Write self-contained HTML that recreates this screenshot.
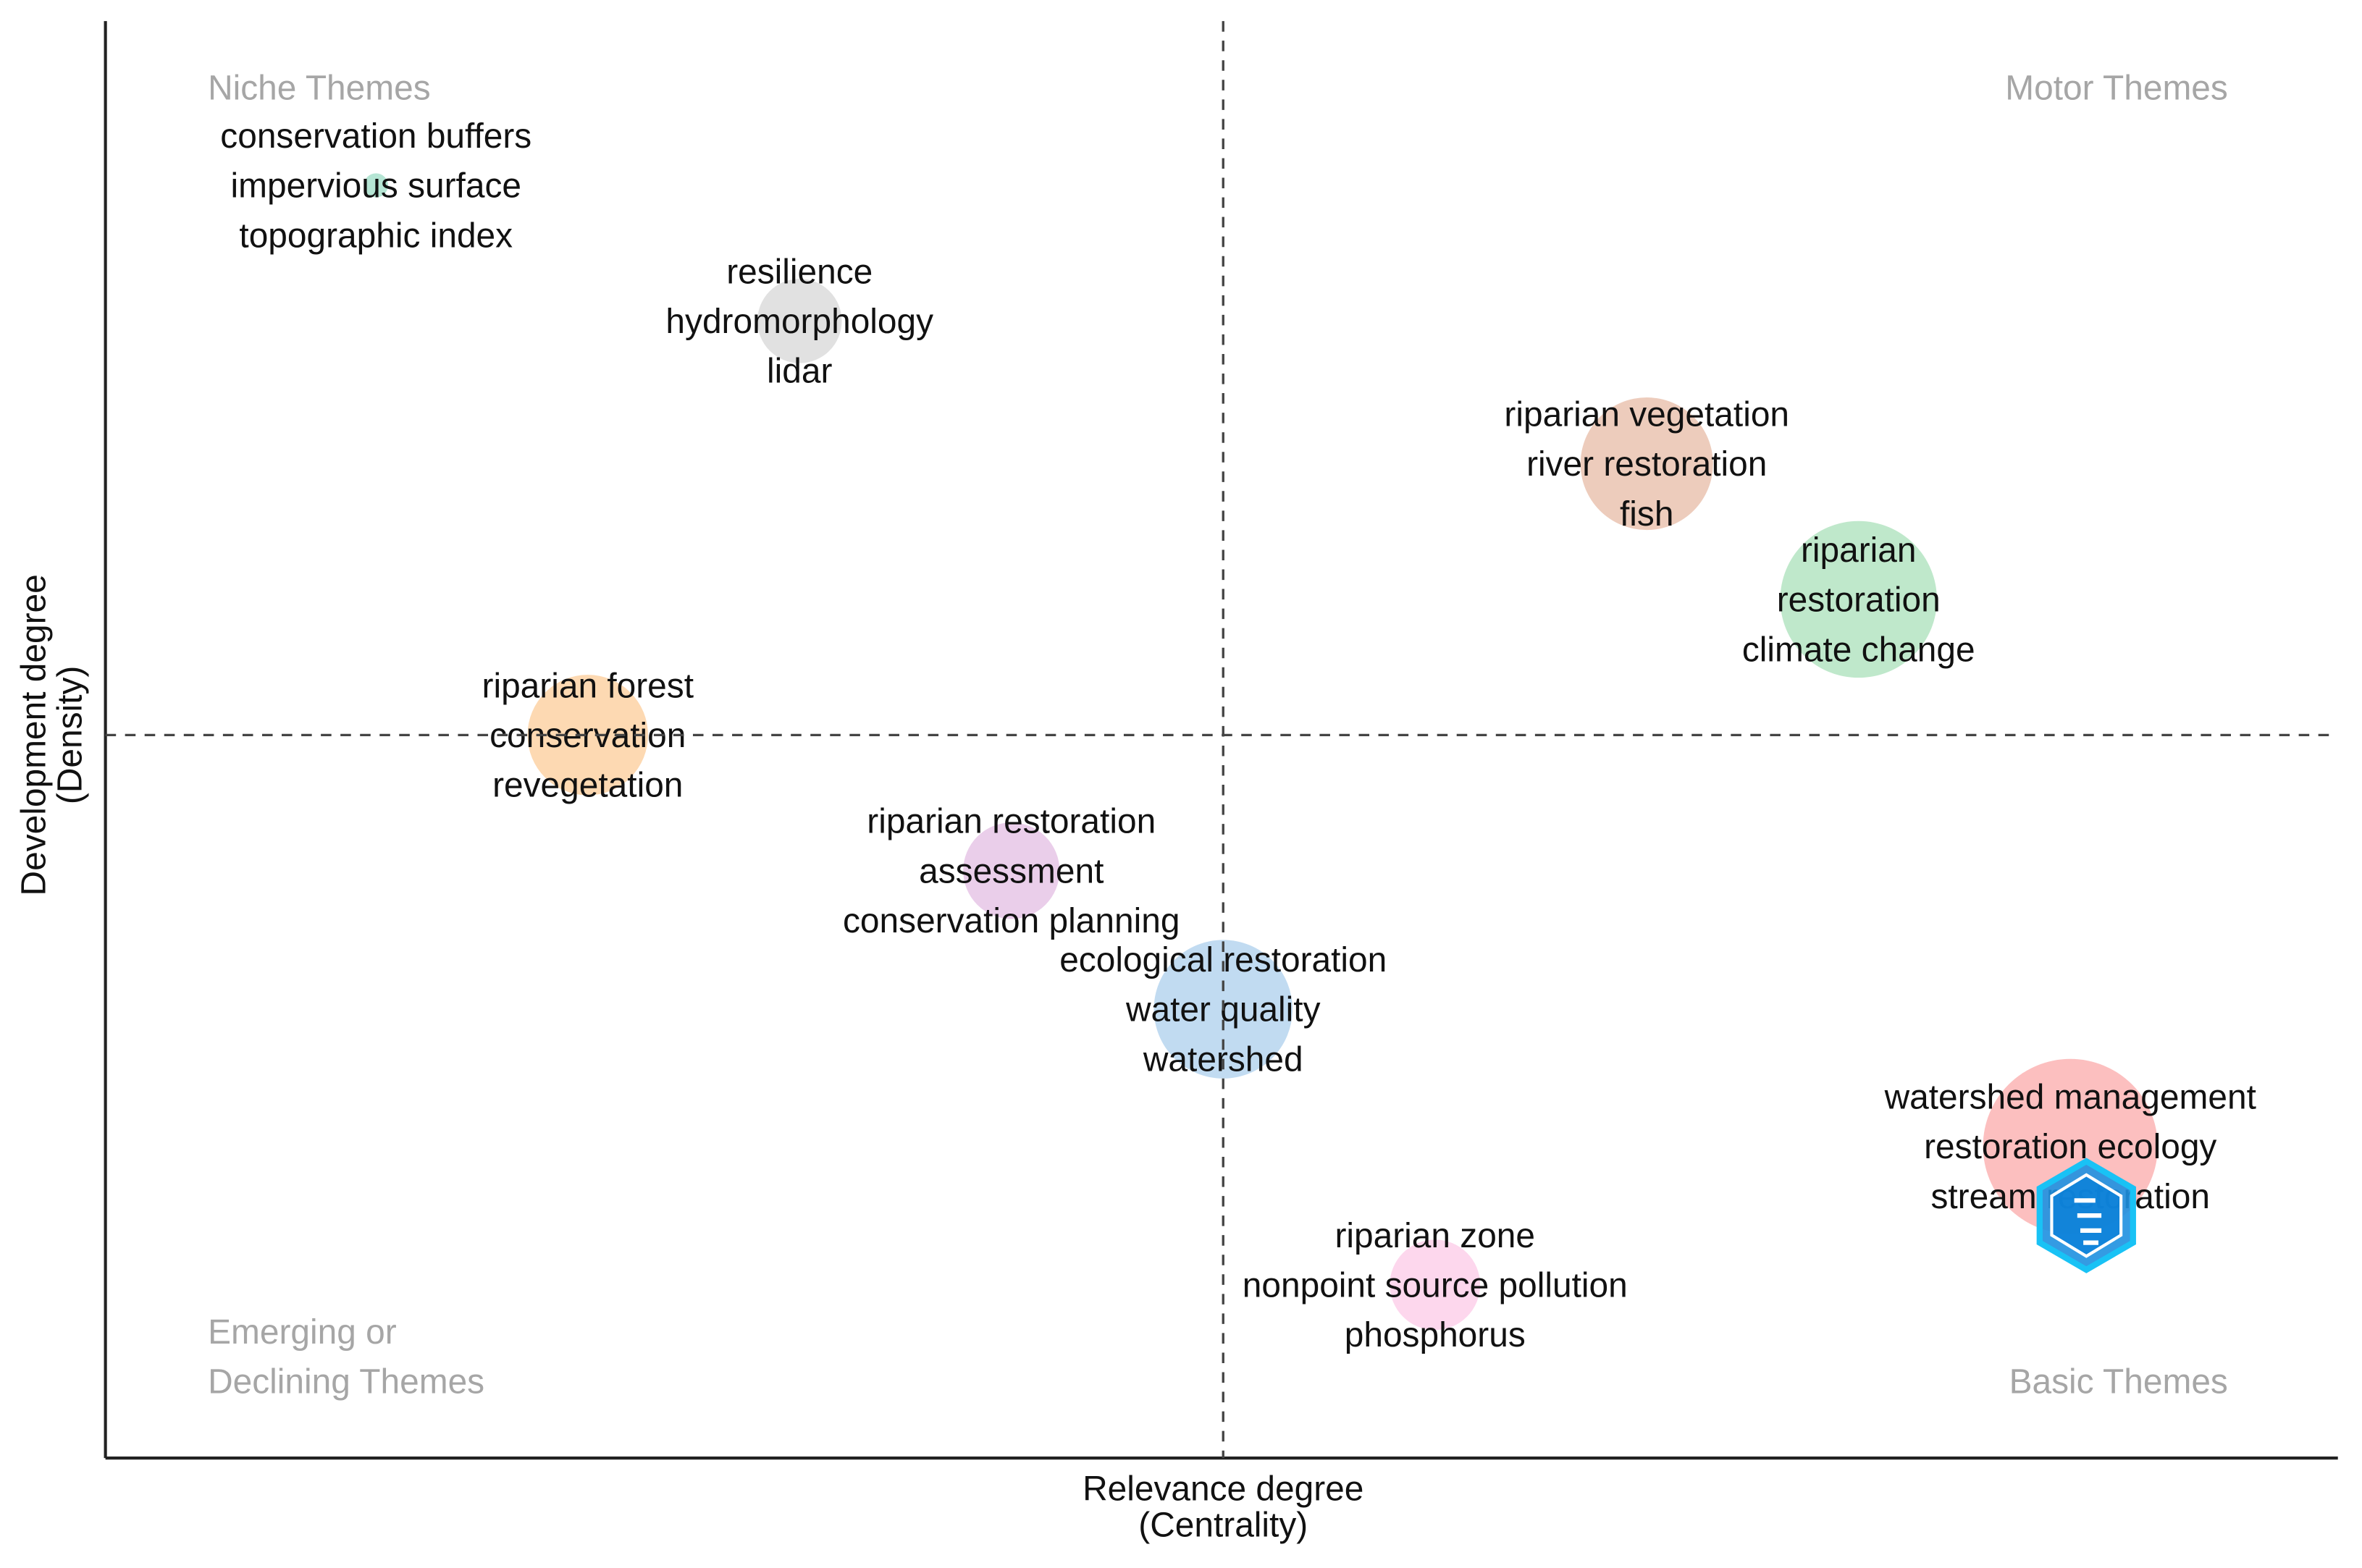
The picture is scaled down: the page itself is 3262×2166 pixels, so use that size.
<!DOCTYPE html>
<html><head><meta charset="utf-8"><style>
html,body{margin:0;padding:0;background:#fff;width:3262px;height:2166px;overflow:hidden}
svg{display:block}
text{font-family:"Liberation Sans",sans-serif}
</style></head><body>
<svg id="chart" width="3262" height="2166" viewBox="0 0 1568 1041" preserveAspectRatio="none" xmlns="http://www.w3.org/2000/svg">
<g id="marks"></g>
<line x1="70" y1="14" x2="70" y2="968" stroke="#222" stroke-width="2"/>
<line x1="70" y1="968" x2="1552" y2="968" stroke="#222" stroke-width="2"/>
<line x1="812" y1="14" x2="812" y2="968" stroke="#444" stroke-width="1.6" stroke-dasharray="7,6"/>
<line x1="70" y1="488" x2="1552" y2="488" stroke="#444" stroke-width="1.6" stroke-dasharray="7,6"/>
<g fill="#a6a6a6" font-size="23">
<text x="138" y="66">Niche Themes</text>
<text x="1479" y="66" text-anchor="end">Motor Themes</text>
<text x="138" y="892">Emerging or</text>
<text x="138" y="925">Declining Themes</text>
<text x="1479" y="925" text-anchor="end">Basic Themes</text>
</g>
<g fill="#111" font-size="23" text-anchor="middle">
<text x="812" y="996">Relevance degree</text>
<text x="812" y="1020">(Centrality)</text>
<text transform="translate(30,488) rotate(-90)">Development degree</text>
<text transform="translate(54,488) rotate(-90)">(Density)</text>
</g>
<g transform="translate(1385,807)">
<polygon points="0,-36 31,-18 31,18 0,36 -31,18 -31,-18" fill="#1e90e0" fill-opacity="0.9" stroke="#19c2f5" stroke-width="4"/>
<polygon points="0,-27 23,-13 23,13 0,27 -23,13 -23,-13" fill="#0a7fd8" fill-opacity="0.8" stroke="#fff" stroke-width="2"/>
<path d="M-8,-10 h14 M-6,0 h16 M-4,10 h14 M-2,18 h10" stroke="#fff" stroke-width="3"/>
</g>
</svg>
<script>
const centrality=[-0.76,-0.38,0.38,0.57,-0.57,-0.19,0.0,0.76,0.19];
const density=[0.77,0.58,0.38,0.19,0.0,-0.19,-0.384,-0.576,-0.77];
const sizes=[8,28,44,52,40,32,46,58,30];
const labels1=["conservation buffers","resilience","riparian vegetation","riparian","riparian forest","riparian restoration","ecological restoration","watershed management","riparian zone"];
const labels2=["impervious surface","hydromorphology","river restoration","restoration","conservation","assessment","water quality","restoration ecology","nonpoint source pollution"];
const labels3=["topographic index","lidar","fish","climate change","revegetation","conservation planning","watershed","stream restoration","phosphorus"];
const colors=["#a8e0cc","#dcdcdc","#eac3b0","#b4e4c2","#fdd2a4","#e6c6e6","#b6d5ee","#fbb4b4","#fdd0ea"];
function xScale(v){return 812+v*740;}
function yScale(v){return 488-v*474;}
const NS="http://www.w3.org/2000/svg";
const g=document.getElementById('marks');
for(let i=0;i<centrality.length;i++){
  const cx=xScale(centrality[i]),cy=yScale(density[i]);
  const c=document.createElementNS(NS,'circle');
  
  
  c.setAttribute('cx',cx);c.setAttribute('cy',cy);c.setAttribute('r',sizes[i]);
  c.setAttribute('fill',colors[i]);c.setAttribute('fill-opacity','0.85');
  g.appendChild(c);
}
for(let i=0;i<centrality.length;i++){
  const cx=xScale(centrality[i]),cy=yScale(density[i]);
  const ls=[labels1[i],labels2[i],labels3[i]];
  for(let k=0;k<3;k++){
    const t=document.createElementNS(NS,'text');
    
    
    t.setAttribute('x',cx);t.setAttribute('y',cy+(k-1)*33+8);
    t.setAttribute('text-anchor','middle');t.setAttribute('font-size','23');t.setAttribute('fill','#111');
    t.textContent=ls[k];
    g.appendChild(t);
  }
}
</script>
</body></html>
